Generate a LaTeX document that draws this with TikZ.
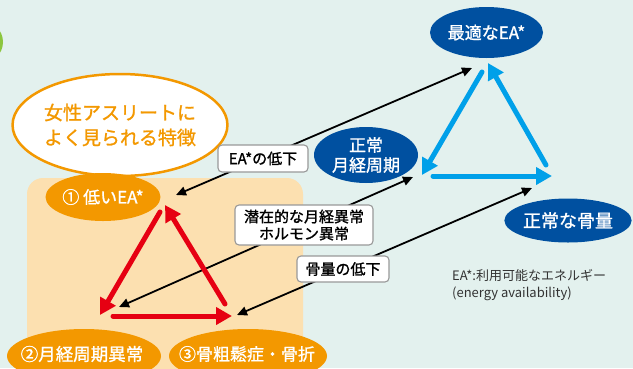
\documentclass[tikz,border=0pt]{standalone}
\usepackage{fontspec}
\setmainfont{Noto Sans CJK JP}[BoldFont=Noto Sans CJK JP, BoldFeatures={FakeBold=1.2}]
\usetikzlibrary{shapes.geometric,arrows.meta}
\definecolor{bgc}{HTML}{E3F1EE}
\definecolor{peach}{HTML}{FCE0B0}
\definecolor{oran}{HTML}{F39800}
\definecolor{navy}{HTML}{0050A0}
\definecolor{sky}{HTML}{00A0E9}
\definecolor{redc}{HTML}{E60012}
\definecolor{leaf}{HTML}{8CC63F}
\definecolor{txtgray}{HTML}{333333}
\tikzset{
  onode/.style={ellipse, fill=oran, text=white, inner sep=0pt, font=\bfseries\fontsize{17}{20}\selectfont},
  nnode/.style={ellipse, fill=navy, text=white, inner sep=0pt, align=center, font=\bfseries\fontsize{17}{20}\selectfont},
  labbox/.style={draw=black!40, fill=white, rounded corners=4pt, line width=1.1pt, inner sep=0pt, align=center, text=black, font=\bfseries\fontsize{15}{17}\selectfont},
  redarrow/.style={draw=redc, line width=5pt, line cap=round, -{Triangle[length=16pt,width=17pt]}},
  bluearrow/.style={draw=sky, line width=5pt, line cap=round, -{Triangle[length=16pt,width=17pt]}},
  blackarrow/.style={draw=black, line width=1.8pt, {Triangle[length=10pt,width=9pt]}-{Triangle[length=10pt,width=9pt]}},
}
\begin{document}
\begin{tikzpicture}[x=1pt,y=-1pt]
\useasboundingbox (0,0) rectangle (633,368);
\clip (0,0) rectangle (633,368);
\fill[bgc] (0,0) rectangle (633,368);
\fill[leaf] (-18,42) circle[radius=21pt];
\fill[peach, rounded corners=16pt] (27,178) rectangle (303,390);

% title ellipse
\node[ellipse, draw=oran, line width=2.5pt, fill=white, minimum width=194pt, minimum height=102pt, inner sep=0pt, align=center, text=oran, font=\bfseries\fontsize{19}{25}\selectfont] (feat) at (120,125) {女性アスリートに\\よく見られる特徴};

% orange nodes
\node[onode, minimum width=114pt, minimum height=48pt] (low) at (103,197) {① 低いEA*};
\node[onode, minimum width=154pt, minimum height=54pt] (mensab) at (84,356) {};
\node[font=\bfseries\fontsize{17.5}{20}\selectfont, text=white] (mensabt) at (82,354) {②月経周期異常};
\node[onode, minimum width=158pt, minimum height=54pt] (osteo) at (248,356) {};
\node[font=\bfseries\fontsize{17}{20}\selectfont, text=white] (osteot) at (247,354) {③骨粗鬆症・骨折};

% navy nodes
\node[nnode, minimum width=113pt, minimum height=51pt] (opt) at (486.5,32.5) {最適なEA*};
\node[nnode, minimum width=104pt, minimum height=56pt] (mens) at (366,155) {正常\\月経周期};
\node[nnode, minimum width=113pt, minimum height=44pt, font=\bfseries\fontsize{18}{20}\selectfont] (bone) at (568,220.5) {正常な骨量};

% arrow end points
\coordinate (ea1) at (176,195);
\coordinate (ea2) at (472,68);
\coordinate (lt1) at (119,307);
\coordinate (lt2) at (413,177);
\coordinate (bn1) at (237,315);
\coordinate (bn2) at (532,188);

\coordinate (r1) at (160,212); \coordinate (r1e) at (100,315);
\coordinate (r2) at (113,316); \coordinate (r2e) at (232,316);
\coordinate (r3) at (225,304); \coordinate (r3e) at (165,205);

\coordinate (b1) at (482,72); \coordinate (b1e) at (422,175);
\coordinate (b2) at (433,176); \coordinate (b2e) at (552,176);
\coordinate (b3) at (546,165); \coordinate (b3e) at (488,63);

% black arrows
\draw[blackarrow] (ea1) -- (ea2);
\draw[blackarrow] (lt1) -- (lt2);
\draw[blackarrow] (bn1) -- (bn2);

% red cycle
\draw[redarrow] (r1) -- (r1e);
\draw[redarrow] (r2) -- (r2e);
\draw[redarrow] (r3) -- (r3e);

% blue cycle
\draw[bluearrow] (b1) -- (b1e);
\draw[bluearrow] (b2) -- (b2e);
\draw[bluearrow] (b3) -- (b3e);

% labels
\node[labbox, minimum width=90pt, minimum height=27pt] (labea) at (263,158.5) {EA*の低下};
\node[labbox, minimum width=138pt, minimum height=40pt] (lablt) at (304,225) {潜在的な月経異常\\ホルモン異常};
\node[labbox, minimum width=92pt, minimum height=26pt] (labbn) at (343,269) {骨量の低下};

% note
\node[anchor=west, align=left, inner sep=0pt, text=txtgray, font=\fontsize{13}{17}\selectfont] (note) at (452,285.5) {EA*:利用可能なエネルギー\\(energy availability)};
\end{tikzpicture}
\end{document}
